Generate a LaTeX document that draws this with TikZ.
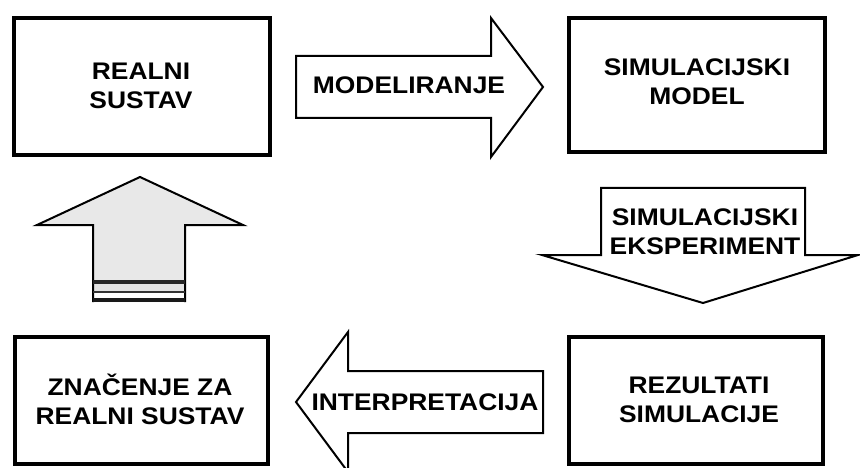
\documentclass[tikz,border=0pt]{standalone}
\usepackage{fontspec}
\newfontfamily\lblfont{Liberation Sans}[FakeStretch=1.1]
\begin{document}
\begin{tikzpicture}[x=1pt,y=-1pt,
  box/.style={draw=black, line width=3.5pt, fill=white, inner sep=0pt},
  blockarrow/.style={draw=black, line width=2pt, fill=white, line join=miter},
  lbl/.style={font=\lblfont\bfseries\fontsize{24}{29}\selectfont, align=center, inner sep=0pt, text=black}]
\clip (0,0) rectangle (860,468);
\fill[white] (0,0) rectangle (860,468);
% boxes
\node[box, minimum width=256pt, minimum height=137pt] (real) at (142,86.5) {};
\node[box, minimum width=256pt, minimum height=134pt] (model) at (697,85) {};
\node[box, minimum width=254pt, minimum height=127pt] (rez) at (696,400.5) {};
\node[box, minimum width=253pt, minimum height=127pt] (znac) at (141.5,400.5) {};
\node[lbl] (realT) at (141,86) {REALNI\\SUSTAV};
\node[lbl] (modelT) at (697,82) {SIMULACIJSKI\\MODEL};
\node[lbl] (rezT) at (699,400) {REZULTATI\\SIMULACIJE};
\node[lbl] (znacT) at (140,399) {ZNAČENJE ZA\\REALNI SUSTAV};
% right arrow
\draw[blockarrow] (296,56) -- (491,56) -- (491,18) -- (543,87) -- (491,157) -- (491,118) -- (296,118) -- cycle;
\node[lbl] (modT) at (409,85) {MODELIRANJE};
% down arrow
\draw[blockarrow] (601,188) -- (805,188) -- (805,255) -- (858,255) -- (703,303) -- (542,255) -- (601,255) -- cycle;
\node[lbl] (expT) at (705,232) {SIMULACIJSKI\\EKSPERIMENT};
% left arrow
\draw[blockarrow] (543,371) -- (348,371) -- (348,332) -- (296,402) -- (348,472) -- (348,433) -- (543,433) -- cycle;
\node[lbl] (intT) at (425,402) {INTERPRETACIJA};
% up arrow
\fill[gray!18] (140,177) -- (243,225) -- (185,225) -- (185,302) -- (93,302) -- (93,225) -- (37,225) -- cycle;
\fill[white] (93,293) rectangle (185,298);
\fill[gray!22] (93,284) rectangle (185,291);
\draw[line width=2pt, line join=miter] (93,302) -- (93,225) -- (37,225) -- (140,177) -- (243,225) -- (185,225) -- (185,302);
\draw[line width=4pt, black!85] (93,281.5) -- (185,281.5);
\draw[line width=2pt, black!80] (93,292) -- (185,292);
\draw[line width=4.5pt, black!90] (93,300) -- (185,300);
\end{tikzpicture}
\end{document}
